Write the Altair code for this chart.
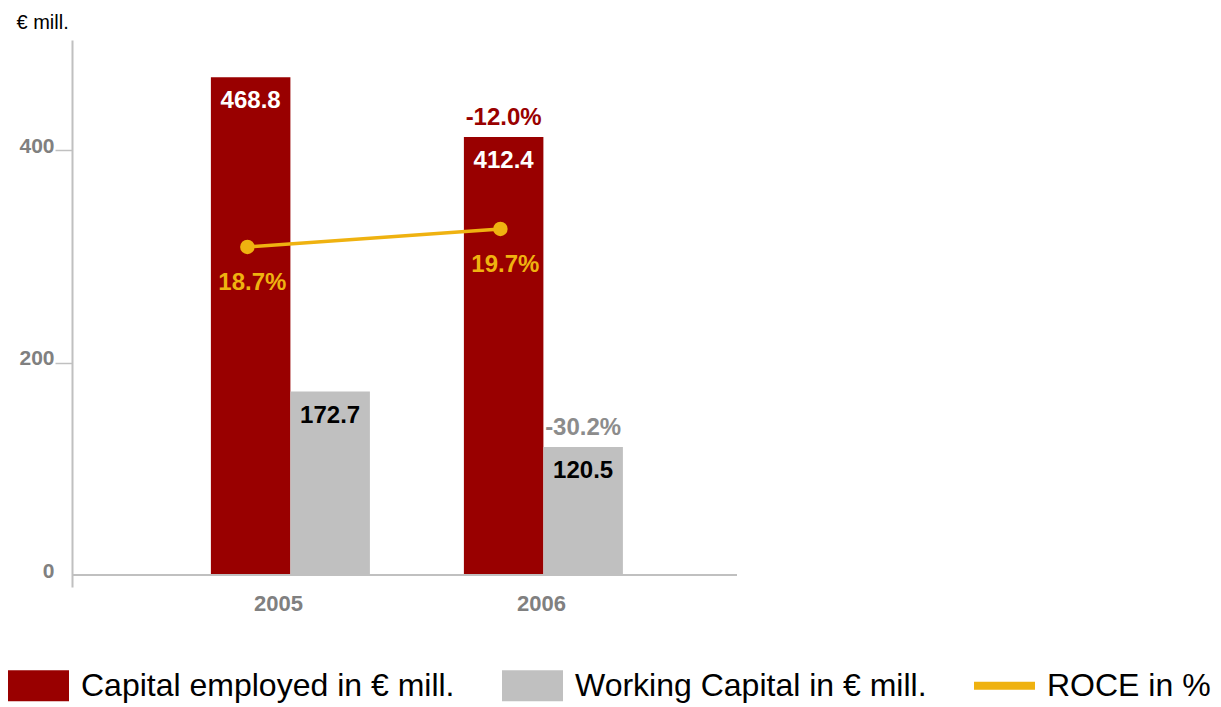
import altair as alt
import pandas as pd

# ---- data -------------------------------------------------------------
years = ["2005", "2006"]
capital_employed = [468.8, 412.4]
working_capital = [172.7, 120.5]
capital_change = ["", "-12.0%"]
working_change = ["", "-30.2%"]
roce = [18.7, 19.7]
roce_labels = ["18.7%", "19.7%"]

CAP = "Capital employed in € mill."
WC = "Working Capital in € mill."
ROCE = "ROCE in %"

series_names = [CAP, WC, ROCE]
series_colors = ["#990000", "#c0c0c0", "#efb210"]

bars_df = pd.DataFrame(
    {
        "year": years * 2,
        "series": [CAP] * len(years) + [WC] * len(years),
        "value": capital_employed + working_capital,
        "change": capital_change + working_change,
    }
)
roce_df = pd.DataFrame({"year": years, "roce": roce, "label": roce_labels})

FONT = "Liberation Sans"
AXIS_GREY = "#c0c0c0"
LABEL_GREY = "#808080"

RECT_PATH = "M-1,-0.508H1V0.508H-1Z"
LINE_PATH = "M-1,-0.131H1V0.131H-1Z"

# ---- scales -----------------------------------------------------------
x_scale = alt.Scale(domain=years, paddingInner=0.3715, paddingOuter=0.5, align=0.549)
x_axis = alt.Axis(
    title=None,
    domain=False,
    ticks=False,
    labelAngle=0,
    labelFont=FONT,
    labelFontSize=22,
    labelFontWeight="bold",
    labelColor=LABEL_GREY,
    labelPadding=6,
    labelOffset={"condition": {"test": "datum.value === '2005'", "value": -12}, "value": -2},
)
x_enc = alt.X("year:N", scale=x_scale, sort=years, axis=x_axis)
offset_enc = alt.XOffset(
    "series:N", sort=[CAP, WC], scale=alt.Scale(domain=[CAP, WC], paddingInner=0, paddingOuter=0)
)
y_enc = alt.Y(
    "value:Q",
    scale=alt.Scale(domain=[-11.3, 503.8], nice=False, zero=False),
    axis=alt.Axis(
        values=[0, 200, 400],
        title="€ mill.",
        titleAngle=0,
        titleAlign="left",
        titleBaseline="alphabetic",
        titleX=-56,
        titleY=-12,
        titleFont=FONT,
        titleFontSize=20,
        titleFontWeight="normal",
        titleColor="#000000",
        domainColor=AXIS_GREY,
        domainWidth=2,
        tickColor=AXIS_GREY,
        tickWidth=1.5,
        tickSize=17,
        tickOpacity={"condition": {"test": "datum.value === 0", "value": 0}, "value": 1},
        labelFont=FONT,
        labelFontSize=21,
        labelFontWeight="bold",
        labelColor=LABEL_GREY,
        labelPadding=1,
        labelOffset=-4,
        grid=False,
    ),
)

legend = alt.Legend(
    title=None,
    orient="none",
    legendX=-64,
    legendY=615,
    direction="horizontal",
    columns=3,
    padding=0,
    symbolType=alt.ExprRef(
        f"datum.value === '{ROCE}' ? '{LINE_PATH}' : '{RECT_PATH}'"
    ),
    symbolSize=3721,
    symbolStrokeWidth=0,
    symbolOpacity=1,
    labelFont=FONT,
    labelFontSize=32,
    labelColor="#000000",
    labelOffset=12,
    labelLimit=600,
    columnPadding=47,
)

# ---- bars and their labels ---------------------------------------------
bars = alt.Chart(bars_df).mark_bar().encode(
    x=x_enc,
    xOffset=offset_enc,
    y=y_enc,
    color=alt.Color(
        "series:N",
        scale=alt.Scale(domain=series_names, range=series_colors),
        legend=legend,
    ),
)

value_text = alt.Chart(bars_df).mark_text(
    font=FONT, fontSize=24, fontWeight="bold", baseline="middle", dy=24
).encode(
    x=x_enc,
    xOffset=offset_enc,
    y=alt.Y("value:Q"),
    text=alt.Text("value:Q", format=".1f"),
    color=alt.condition(alt.datum.series == CAP, alt.value("#ffffff"), alt.value("#000000")),
)

change_text = alt.Chart(bars_df).transform_filter(alt.datum.change != "").mark_text(
    font=FONT, fontSize=24, fontWeight="bold", baseline="middle", dy=-19
).encode(
    x=x_enc,
    xOffset=offset_enc,
    y=alt.Y("value:Q"),
    text="change:N",
    color=alt.condition(alt.datum.series == CAP, alt.value("#990000"), alt.value("#8c8c8c")),
)

baseline = alt.Chart(bars_df).mark_rule(color=AXIS_GREY, strokeWidth=2).encode(y=alt.datum(0))

bar_layer = alt.layer(bars, value_text, change_text, baseline)

# ---- ROCE line on its own hidden scale ----------------------------------
roce_y = alt.Y("roce:Q", scale=alt.Scale(domain=[-0.2, 30.2], nice=False, zero=False), axis=None)

roce_line = alt.Chart(roce_df).mark_line(color="#efb210", strokeWidth=3.5, xOffset=-43).encode(
    x=x_enc, y=roce_y
)
roce_points = alt.Chart(roce_df).mark_circle(color="#efb210", size=210, opacity=1, xOffset=-43).encode(
    x=x_enc, y=roce_y
)
roce_text = alt.Chart(roce_df).mark_text(
    color="#efb210", font=FONT, fontSize=24, fontWeight="bold", baseline="middle", xOffset=-43, dx=5, dy=36
).encode(x=x_enc, y=roce_y, text="label:N")

roce_layer = alt.layer(roce_line, roce_points, roce_text)

chart = (
    alt.layer(bar_layer, roce_layer)
    .resolve_scale(y="independent")
    .properties(
        width=665,
        height=547,
        padding={"left": 72, "top": 40, "right": 484, "bottom": 120},
        autosize=alt.AutoSizeParams(type="none"),
    )
    .configure_view(stroke=None)
)

chart.save("out.html", embed_options={"renderer": "svg", "actions": False})
